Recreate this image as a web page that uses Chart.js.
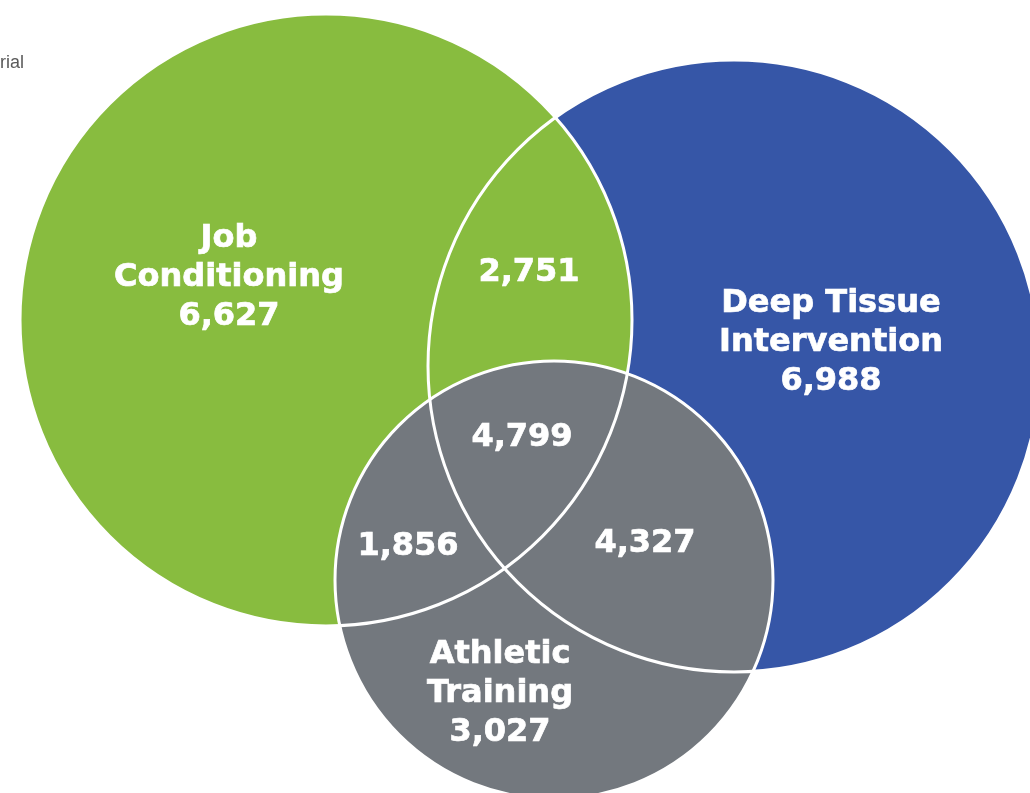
<!DOCTYPE html>
<html>
<head>
<meta charset="utf-8">
<script src="https://cdn.jsdelivr.net/npm/chart.js@4/dist/chart.umd.min.js"></script>
<style>
  html, body { margin: 0; padding: 0; background: #fff; }
  canvas { display: block; }
</style>
</head>
<body>
<canvas id="venn" width="1030" height="793"></canvas>
<script>
// sets (circles) of the venn
const setNames = [['Job', 'Conditioning'], ['Deep Tissue', 'Intervention'], ['Athletic', 'Training']];
const setTotals = ['6,627', '6,988', '3,027'];
const setColors = ['#88bc3f', '#3656a7', '#73787e'];
// circle centres and radii in chart units (1 unit = 1 px)
const circleX = [326, 734, 554];
const circleY = [320, 366, 580];
const circleR = [306, 306, 219];
// where each set's own label sits
const setLabelX = [229, 831, 500];
const setLabelY = [278, 343, 694];

// overlap regions
const overlapValues = ['2,751', '4,799', '1,856', '4,327'];
const overlapX = [529, 522, 408, 645];
const overlapY = [273, 438, 547, 544];

const cornerNote = 'rial';

const circleData = (i) => [{ x: circleX[i], y: circleY[i], r: circleR[i] }];

// fills first (blue under green, gray on top), white outlines over everything
const fillOrder = [4, 5, 3];
const datasets = setNames.map((_, i) => ({
  data: circleData(i),
  backgroundColor: setColors[i],
  borderWidth: 0,
  order: fillOrder[i]
}));
setNames.forEach((_, i) => {
  datasets.push({
    data: circleData(i),
    backgroundColor: 'rgba(0,0,0,0)',
    borderColor: '#ffffff',
    borderWidth: 3,
    order: 1
  });
});

const labelPlugin = {
  id: 'vennLabels',
  afterDatasetsDraw(chart) {
    const { ctx, scales } = chart;
    const px = v => scales.x.getPixelForValue(v);
    const py = v => scales.y.getPixelForValue(v);
    ctx.save();
    ctx.fillStyle = '#ffffff';
    ctx.strokeStyle = '#ffffff';
    ctx.lineWidth = 0.7;
    ctx.textAlign = 'center';
    ctx.textBaseline = 'middle';
    ctx.font = 'bold 32px "DejaVu Sans"';
    const lh = 39;
    const put = (t, x, y) => { ctx.fillText(t, x, y); ctx.strokeText(t, x, y); };
    setNames.forEach((lines, i) => {
      const all = lines.concat([setTotals[i]]);
      // middle line sits on the anchor
      const y0 = py(setLabelY[i]) - lh;
      all.forEach((t, k) => put(t, px(setLabelX[i]), y0 + k * lh));
    });
    overlapValues.forEach((v, i) => {
      put(v, px(overlapX[i]), py(overlapY[i]));
    });
    // cropped note top-left
    ctx.fillStyle = '#5a5a5a';
    ctx.textAlign = 'left';
    ctx.font = '18px "Liberation Sans"';
    ctx.fillText(cornerNote, 0, 63);
    ctx.restore();
  }
};

new Chart(document.getElementById('venn'), {
  type: 'bubble',
  data: { datasets },
  options: {
    responsive: false,
    animation: false,
    events: [],
    layout: { padding: 0, autoPadding: false },
    plugins: { legend: { display: false }, tooltip: { enabled: false } },
    scales: {
      x: { type: 'linear', min: 0, max: 1030, display: false },
      y: { type: 'linear', min: 0, max: 793, reverse: true, display: false }
    }
  },
  plugins: [labelPlugin]
});
</script>
</body>
</html>
